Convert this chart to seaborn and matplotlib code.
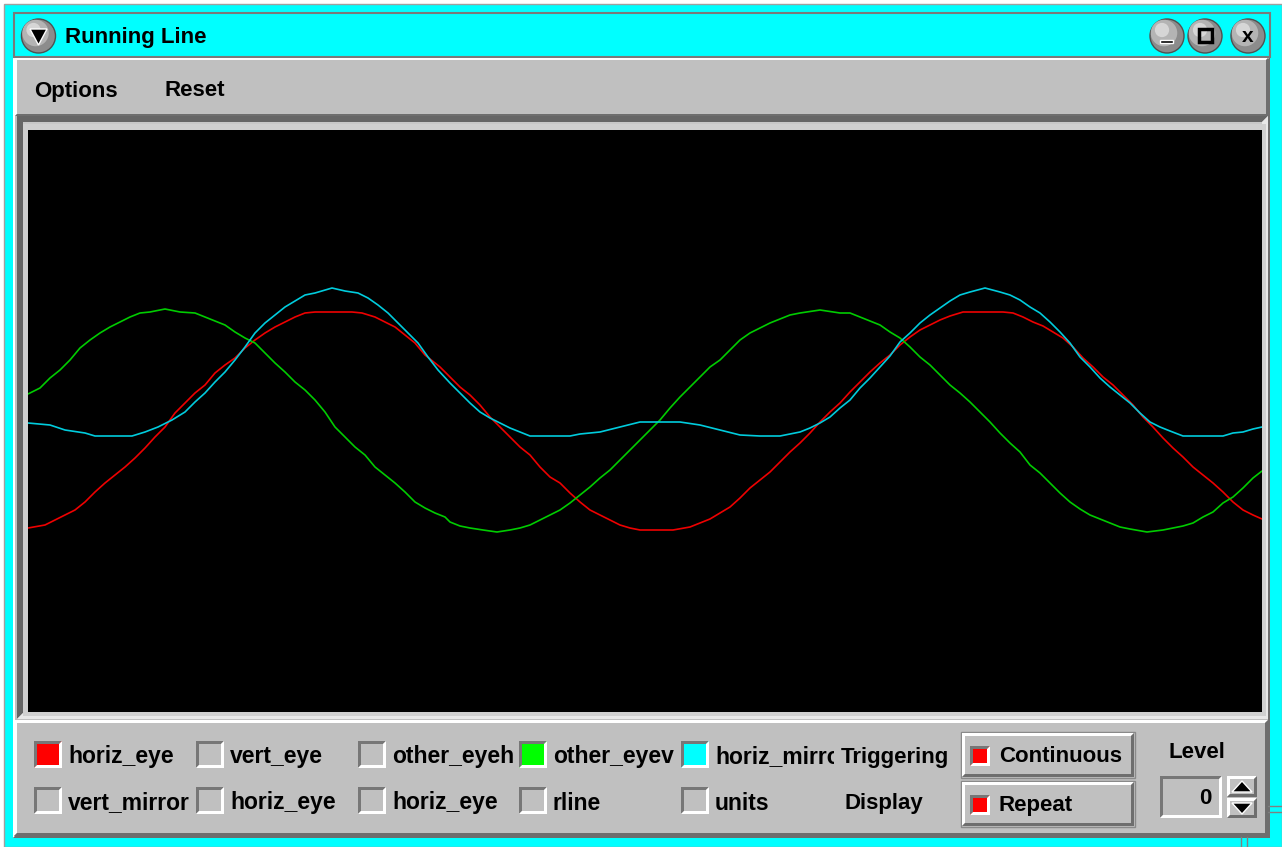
import numpy as np
import pandas as pd
import matplotlib
matplotlib.use("Agg")
import matplotlib.pyplot as plt
from matplotlib.patches import Rectangle, Polygon, Circle
import seaborn as sns

# signal samples (time index, level)
red_t = [0, 17, 27, 37, 47, 57, 67, 77, 87, 97, 107, 117, 127, 137, 147, 157, 167, 177, 187, 197,
         207, 217, 227, 237, 247, 257, 267, 277, 287, 307, 324, 334, 347, 357, 367, 377, 387, 397,
         407, 412, 422, 432, 442, 452, 462, 472, 482, 492, 502, 512, 522, 532, 542, 552, 562, 572,
         582, 592, 602, 612, 645, 662, 672, 682, 692, 702, 712, 722, 732, 742, 752, 762, 772, 782,
         792, 802, 812, 822, 832, 842, 852, 862, 872, 882, 892, 902, 912, 922, 935, 955, 975, 985,
         995, 1005, 1015, 1025, 1035, 1045, 1055, 1065, 1075, 1085, 1095, 1105, 1115, 1125, 1135,
         1145, 1155, 1165, 1175, 1185, 1195, 1205, 1215, 1225, 1234]
red_v = [-107, -104, -99, -94, -89, -81, -71, -62, -54, -46, -37, -27, -16, -6, 8, 18, 28, 36, 48, 56,
         63, 73, 81, 88, 94, 99, 104, 108, 109, 109, 109, 108, 104, 99, 94, 86, 78, 66,
         58, 54, 44, 34, 26, 16, 4, -6, -16, -26, -34, -46, -56, -62, -72, -81, -89, -94,
         -99, -104, -107, -109, -109, -106, -102, -98, -92, -86, -77, -67, -59, -51, -41, -31, -22, -12,
         -1, 9, 18, 29, 39, 49, 58, 66, 76, 84, 91, 96, 101, 105, 109, 109, 109, 108,
         104, 99, 95, 89, 83, 74, 63, 54, 44, 36, 26, 16, 4, -6, -17,
         -27, -36, -46, -54, -62, -71, -81, -89, -94, -98]

green_t = [0, 12, 22, 32, 42, 52, 62, 72, 82, 92, 102, 112, 122, 137, 152, 167, 177, 187, 197, 207,
           217, 227, 237, 247, 257, 267, 277, 287, 297, 307, 317, 327, 337, 347, 357, 367, 377, 387,
           397, 407, 417, 422, 432, 442, 455, 469, 482, 492, 502, 512, 522, 532, 542, 552, 562, 572,
           582, 592, 602, 612, 622, 632, 642, 652, 662, 672, 682, 692, 702, 712, 722, 732, 742, 752,
           762, 772, 792, 812, 822, 832, 842, 852, 862, 872, 882, 892, 902, 912, 922, 932, 942, 952,
           962, 972, 982, 992, 1002, 1012, 1022, 1032, 1042, 1052, 1062, 1072, 1082, 1092, 1102,
           1119, 1135, 1145, 1155, 1165, 1175, 1185, 1195, 1205, 1215, 1225, 1234]
green_v = [27, 33, 43, 51, 61, 73, 81, 88, 94, 99, 104, 108, 109, 112, 109, 108, 104, 100, 96, 89,
           83, 78, 68, 58, 49, 39, 31, 21, 9, -6, -16, -26, -34, -46, -54, -62, -71, -81,
           -87, -92, -96, -101, -105, -107, -109, -111, -109, -107, -104, -99, -94, -89, -82, -74, -66, -57,
           -49, -39, -29, -19, -9, 1, 13, 24, 34, 44, 54, 61, 71, 81, 88, 93, 98, 102,
           106, 108, 111, 108, 108, 104, 100, 96, 89, 83, 74, 64, 56, 46, 36, 28, 19, 9,
           -1, -12, -22, -31, -44, -52, -62, -72, -81, -88, -94, -98, -102, -106, -108,
           -111, -109, -107, -105, -102, -96, -91, -82, -76, -67, -57, -50]

cyan_t = [0, 22, 37, 57, 67, 104, 117, 130, 144, 157, 167, 177, 187, 197, 207, 217, 227, 237, 247,
          257, 267, 277, 287, 304, 317, 330, 340, 350, 360, 370, 380, 390, 400, 410, 422, 432, 442,
          452, 462, 472, 482, 492, 502, 542, 552, 572, 592, 612, 632, 652, 672, 692, 712, 732, 752,
          762, 772, 782, 792, 802, 812, 822, 832, 842, 852, 862, 872, 882, 892, 902, 912, 922, 932,
          942, 957, 972, 982, 992, 1002, 1012, 1022, 1032, 1042, 1052, 1062, 1072, 1082, 1092, 1102,
          1112, 1122, 1132, 1142, 1155, 1195, 1205, 1215, 1225, 1234]
cyan_v = [-2, -4, -9, -12, -15, -15, -11, -6, 1, 9, 19, 28, 39, 49, 61, 74, 88, 98, 106,
          114, 120, 126, 128, 133, 130, 128, 123, 116, 108, 98, 88, 78, 64, 51, 38, 28, 18,
          9, 3, -2, -7, -11, -15, -15, -13, -11, -6, -1, -1, -1, -4, -9, -14, -15, -15,
          -13, -11, -7, -2, 4, 13, 21, 33, 43, 54, 65, 79, 88, 98, 106, 113, 120, 126,
          129, 133, 129, 126, 121, 114, 108, 99, 89, 78, 64, 54, 43, 34, 26, 18,
          8, -1, -6, -10, -15, -15, -12, -11, -8, -6]

row1_labels = ["horiz_eye", "vert_eye", "other_eyeh", "other_eyev", "horiz_mirror"]
row2_labels = ["vert_mirror", "horiz_eye", "horiz_eye", "rline", "units"]
row1_fill = ["#ff0000", None, None, "#00ff00", "#00ffff"]

W, H = 1282, 847
GRAY = "#c0c0c0"
LIGHT = "#ffffff"
DARK = "#6e6e6e"

sns.set_style("white")
plt.rcParams["font.family"] = ["Liberation Sans", "DejaVu Sans"]

fig = plt.figure(figsize=(W / 100, H / 100), dpi=100, facecolor="white")
bg = fig.add_axes([0, 0, 1, 1])
bg.set_xlim(0, W)
bg.set_ylim(H, 0)
bg.axis("off")


def bevel(x0, y0, x1, y1, face=GRAY, raised=True, w=2, light=LIGHT, dark=DARK, z=1):
    bg.add_patch(Rectangle((x0, y0), x1 - x0, y1 - y0, facecolor=face, edgecolor="none", zorder=z))
    tl = light if raised else dark
    br = dark if raised else light
    bg.add_patch(Polygon([(x0, y1), (x0, y0), (x1, y0), (x1 - w, y0 + w), (x0 + w, y0 + w), (x0 + w, y1 - w)],
                         closed=True, facecolor=tl, edgecolor="none", zorder=z + 0.1))
    bg.add_patch(Polygon([(x1, y0), (x1, y1), (x0, y1), (x0 + w, y1 - w), (x1 - w, y1 - w), (x1 - w, y0 + w)],
                         closed=True, facecolor=br, edgecolor="none", zorder=z + 0.1))


def label(x, y, s, clip_x=None, size=16, **kw):
    # va=center counts the descenders, so nudge down a little
    t = bg.text(x, y + 2, s, fontsize=size, fontweight="bold", color="black", va="center", zorder=5, **kw)
    if clip_x is not None:
        r = Rectangle((x - 2, y - 30), clip_x - x + 2, 60, transform=bg.transData)
        t.set_clip_on(True)
        t.set_clip_path(r)
    return t


def ball(cx, cy, r=17):
    bg.add_patch(Circle((cx, cy), r, facecolor="#8c8c8c", edgecolor="#505050", lw=1, zorder=3))
    bg.add_patch(Circle((cx - 3, cy - 3), r * 0.78, facecolor="#b4b4b4", edgecolor="none", zorder=3.1))
    bg.add_patch(Circle((cx - 5, cy - 6), r * 0.42, facecolor="#d6d6d6", edgecolor="none", zorder=3.2))


# outer window frame
bg.add_patch(Rectangle((4, 4), W - 4, H - 4, facecolor="#00ffff", edgecolor="#a0a0a0", lw=1, zorder=0))
bevel(13, 57, 1270, 838, w=2, z=0.5)

# title bar
bg.add_patch(Rectangle((14, 13), 1256, 44, facecolor="#00ffff", edgecolor="#7a7a7a", lw=1.5, zorder=1))
ball(38.5, 36)
bg.add_patch(Polygon([(30, 29), (47, 29), (38.5, 45)], closed=True, facecolor="black", zorder=4))
label(65, 36, "Running Line")
ball(1167, 36)
bg.add_patch(Rectangle((1160, 40), 13, 3, facecolor="black", zorder=4))
ball(1205, 36)
bg.add_patch(Rectangle((1198.5, 29.5), 13, 13, facecolor="none", edgecolor="black", lw=2.5, zorder=4))
ball(1248, 36)
bg.text(1248, 37, "x", fontsize=15, fontweight="bold", color="black", ha="center", va="center", zorder=5)

# menu bar
bevel(15, 58, 1268, 116, w=2)
label(34, 89, "Options")
label(165, 89, "Reset")

# plot frame (sunken)
bevel(17, 116, 1268, 719, face="#c8c8c8", raised=False, w=6, dark="#666666", light="#e8e8e8")
bg.add_patch(Rectangle((23, 124), 1243, 592, facecolor="#d0d0d0", edgecolor="none", zorder=1.5))

# bottom control panel
bevel(14, 720, 1268, 836, w=3)
cols = [34, 196, 358, 519, 681]
for i, bx in enumerate(cols):
    clip = cols[i + 1] - 1 if i + 1 < len(cols) else 834
    fill = row1_fill[i] if row1_fill[i] else GRAY
    bevel(bx, 741, bx + 28, 768, face=fill, raised=False, w=3, dark="#777777")
    label(bx + 34, 755, row1_labels[i], clip_x=clip, size=16.5)
    bevel(bx, 787, bx + 28, 814, face=GRAY, raised=False, w=3, dark="#777777")
    label(bx + 34, 801, row2_labels[i], clip_x=clip, size=16.5)

label(841, 756, "Triggering")
label(845, 802, "Display")

for y0, txt in [(733, "Continuous"), (782, "Repeat")]:
    bg.add_patch(Rectangle((961, y0 - 1), 174, 46, facecolor="none", edgecolor="#8a8a8a", lw=1, zorder=1))
    bevel(962, y0, 1134, y0 + 44, w=3)
    bevel(970, y0 + 13, 990, y0 + 33, face="#ff0000", raised=False, w=3, dark="#777777")
    label(999, y0 + 22, txt)

label(1197, 751, "Level", ha="center")
bevel(1160, 776, 1222, 818, raised=False, w=3, dark="#777777")
label(1212, 796, "0", ha="right")
bevel(1227, 776, 1257, 797, w=3)
bg.add_patch(Polygon([(1232, 792), (1252, 792), (1242, 781)], closed=True, facecolor="black", zorder=4))
bevel(1227, 798, 1257, 818, w=3)
bg.add_patch(Polygon([(1232, 803), (1252, 803), (1242, 814)], closed=True, facecolor="black", zorder=4))

# resize handles at bottom right corner
for yy in [806, 812]:
    bg.plot([1268, 1282], [yy, yy], color="#808080", lw=1, zorder=2)
for xx in [1241, 1247]:
    bg.plot([xx, xx], [837, 847], color="#808080", lw=1, zorder=2)

# the running line plot itself
ax = fig.add_axes([28 / W, 1 - 712 / H, 1234 / W, 582 / H])
ax.set_facecolor("black")

df = pd.concat([
    pd.DataFrame({"t": red_t, "v": red_v, "sig": "horiz_eye"}),
    pd.DataFrame({"t": green_t, "v": green_v, "sig": "other_eyev"}),
    pd.DataFrame({"t": cyan_t, "v": cyan_v, "sig": "horiz_mirror"}),
])
palette = {"horiz_eye": "#ee0000", "other_eyev": "#00cc00", "horiz_mirror": "#00ccdd"}
sns.lineplot(data=df, x="t", y="v", hue="sig", palette=palette, estimator=None,
             linewidth=1.2, legend=False, ax=ax)

ax.set_xlim(0, 1234)
ax.set_ylim(-291, 291)
ax.set_xticks([])
ax.set_yticks([])
ax.set_xlabel("")
ax.set_ylabel("")
for s in ax.spines.values():
    s.set_visible(False)

fig.savefig("out.png", dpi=100, facecolor=fig.get_facecolor())
